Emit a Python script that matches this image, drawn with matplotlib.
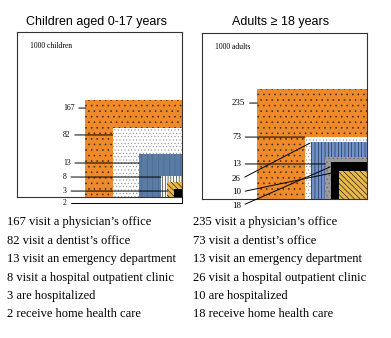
import matplotlib
matplotlib.use("Agg")
import matplotlib.pyplot as plt
from matplotlib.patches import Rectangle

plt.rcParams['hatch.linewidth'] = 0.4

# ---- data ----
services = ["visit a physician\u2019s office", "visit a dentist\u2019s office",
            "visit an emergency department", "visit a hospital outpatient clinic",
            "are hospitalized", "receive home health care"]
child_counts = [167, 82, 13, 8, 3, 2]
adult_counts = [235, 73, 13, 26, 10, 18]
# drawn square size, as a fraction of the 1000-person box
child_side = [0.585, 0.42, 0.26, 0.127, 0.088, 0.05]
adult_side = [0.665, 0.375, 0.252, 0.342, 0.17, 0.22]

# ---- styles: (face, hatch, hatch colour) ----
child_style = [('#EE8A2A', '...', '#3a2a1a'),
               ('white', '.....', '#8c8c8c'),
               ('#5A7BA3', '|||', '#46678e'),
               ('white', '||||||', 'black'),
               ('#E8B84A', '\\\\\\\\\\\\', 'black'),
               ('black', None, 'black')]
adult_style = [('#EE8A2A', '...', '#3a2a1a'),
               ('white', '.....', '#8c8c8c'),
               ('#9A9A9A', '....', '#6a6a6a'),
               ('#6F93C8', '|||||', '#1a1a2a'),
               ('#E8B84A', '\\\\\\\\\\\\', 'black'),
               ('black', None, 'black')]

SERIF = 'Liberation Serif'
SANS = 'Liberation Sans'

fig = plt.figure(figsize=(3.91, 3.38), dpi=100)
W, H = 391, 338


def px_axes(l, t, r, b):
    return fig.add_axes([l / W, (H - b) / H, (r - l) / W, (b - t) / H])


def draw_panel(ax, counts, sides, styles, unit_label, label_x, label_y, targets, lsize):
    ax.set_xlim(0, 1)
    ax.set_ylim(0, 1)
    ax.set_xticks([])
    ax.set_yticks([])
    for sp in ax.spines.values():
        sp.set_linewidth(0.8)
        sp.set_color('#333333')
    order = sorted(range(len(sides)), key=lambda i: -sides[i])
    for i in order:
        face, hatch, hcol = styles[i]
        s = sides[i]
        ax.add_patch(Rectangle((1 - s, 0), s, s, facecolor=face, edgecolor=hcol,
                               hatch=hatch, linewidth=0, zorder=2))
    ax.text(0.079, 0.915, unit_label, fontsize=5.5, family=SERIF,
            ha='left', va='center', transform=ax.transAxes)
    for i, n in enumerate(counts):
        tx, ty, conn = targets[i]
        ax.annotate(str(n), xy=(tx, ty), xytext=(label_x, label_y[i]),
                    fontsize=lsize, family=SERIF, ha='left', va='center',
                    annotation_clip=False, zorder=5,
                    arrowprops=dict(arrowstyle='-', lw=0.7, color='black',
                                    shrinkA=1, shrinkB=0, relpos=(1, 0.5),
                                    connectionstyle=conn))


# ---- children ----
ax1 = px_axes(17, 32, 182, 197)
c_y = [0.539, 0.376, 0.206, 0.121, 0.036, -0.036]
c_t = [(1 - child_side[0], c_y[0], 'arc3'),
       (1 - child_side[1], c_y[1], 'arc3'),
       (1 - child_side[2], c_y[2], 'arc3'),
       (1 - child_side[3], c_y[3], 'arc3'),
       (1 - child_side[4], c_y[4], 'arc3'),
       (1.0, 0.0, 'angle,angleA=0,angleB=90,rad=0')]
draw_panel(ax1, child_counts, child_side, child_style, '1000 children', 0.279,
           c_y, c_t, 5.5)

# ---- adults ----
ax2 = px_axes(202, 33, 367, 199)
a_y = [0.578, 0.373, 0.211, 0.120, 0.042, -0.042]
a_t = [(1 - adult_side[0], a_y[0], 'arc3'),
       (1 - adult_side[1], a_y[1], 'arc3'),
       (1 - adult_side[2], a_y[2], 'arc3'),
       (0.655, 0.337, 'arc3'),
       (0.788, 0.157, 'arc3'),
       (0.776, 0.193, 'arc3')]
draw_panel(ax2, adult_counts, adult_side, adult_style, '1000 adults', 0.182,
           a_y, a_t, 6.5)

fig.text(97 / W, 1 - 22 / H, 'Children aged 0-17 years', family=SANS, fontsize=9,
         ha='center', va='center')
fig.text(281 / W, 1 - 22 / H, 'Adults \u2265 18 years', family=SANS, fontsize=9,
         ha='center', va='center')

# ---- text list under the charts ----
rows_y = [222, 241, 259, 278, 296, 314]
for i, s in enumerate(services):
    fig.text(7 / W, 1 - rows_y[i] / H, f'{child_counts[i]} {s}', family=SERIF,
             fontsize=9, ha='left', va='center')
    fig.text(193 / W, 1 - rows_y[i] / H, f'{adult_counts[i]} {s}', family=SERIF,
             fontsize=9, ha='left', va='center')

fig.savefig('out.png', dpi=100)
